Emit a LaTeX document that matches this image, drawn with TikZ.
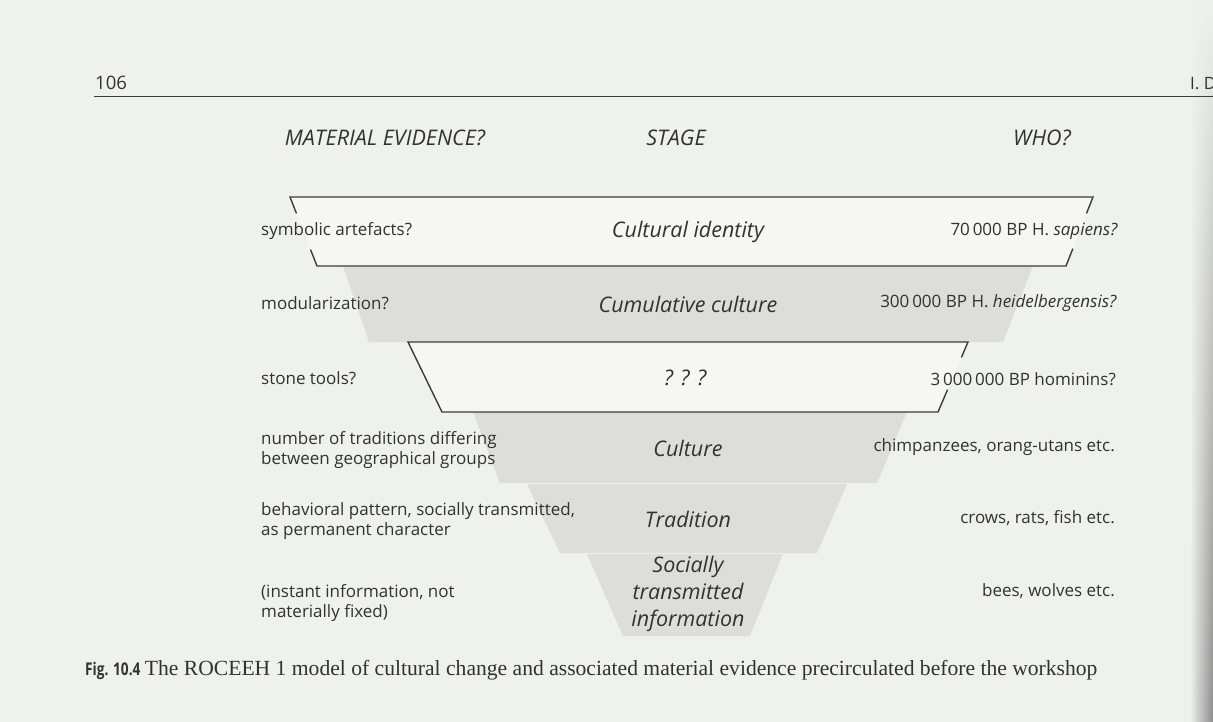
\documentclass[tikz,border=0pt]{standalone}
\usepackage{fontspec}
\setmainfont{Open Sans}
\newfontfamily\capfont{Liberation Serif}
\usetikzlibrary{fadings}
\definecolor{paper}{RGB}{239,241,237}
\definecolor{band}{RGB}{221,222,219}
\definecolor{boxfill}{RGB}{246,247,244}
\definecolor{ink}{RGB}{50,50,50}
\definecolor{rulecol}{RGB}{60,60,60}

\begin{document}
\begin{tikzpicture}[x=1pt,y=-1pt,
  every node/.style={text=ink, inner sep=0pt},
  evid/.style={anchor=west, align=left, font=\fontsize{17}{19.5}\selectfont},
  stagelbl/.style={anchor=center, align=center, font=\fontsize{21.5}{27}\selectfont\itshape},
  who/.style={anchor=east, align=right, font=\fontsize{17}{19.5}\selectfont},
  head/.style={anchor=center, font=\fontsize{21.5}{24}\selectfont\itshape},
  frame/.style={draw=rulecol, line width=1.4pt, line cap=round, line join=miter}]
\useasboundingbox (0,0) rectangle (1213,722);
\clip (0,0) rectangle (1213,722);
\fill[paper] (0,0) rectangle (1213,722);
% shadow along the page edge, stronger towards the bottom
\shade[left color=paper, right color=black!45, path fading=north] (1190,0) rectangle (1213,722);

% running head
\node[anchor=base west, font=\fontsize{18.5}{20}\selectfont] (pageno) at (95,90) {106};
\node[anchor=base west, font=\fontsize{17}{20}\selectfont] (runhead) at (1190,90) {I. D};
\draw[rulecol, line width=1.2pt] (94,96.5) -- (1213,96.5);

% column heads
\node[head] (hEvid)  at (385,138) {MATERIAL EVIDENCE?};
\node[head] (hStage) at (676,138) {STAGE};
\node[head] (hWho)   at (1042,138) {WHO?};

% grey funnel bands
\fill[band] (343,266) -- (1033,266) -- (1003,342) -- (369,342) -- cycle;
\fill[band] (473,412) -- (907,412) -- (877,483) -- (500,483) -- cycle;
\fill[band] (527,484) -- (847,484) -- (817,553) -- (560,553) -- cycle;
\fill[band] (587,554) -- (783,554) -- (750,636) -- (623,636) -- cycle;

% outlined stages
\fill[boxfill] (290,197) -- (1093,197) -- (1066,266) -- (317,266) -- cycle;
\draw[frame] (296.3,213) -- (290,197) -- (1093,197) -- (1086.7,213);
\draw[frame] (310.7,250) -- (317,266) -- (1066,266) -- (1072.7,249);

\fill[boxfill] (408,342) -- (968,342) -- (938,412) -- (442,412) -- cycle;
\draw[frame] (961.6,357) -- (968,342) -- (408,342) -- (442,412) -- (938,412) -- (947.4,390);

% material evidence
\node[evid] (e1) at (261,231) {symbolic artefacts?};
\node[evid] (e2) at (261,303) {modularization?};
\node[evid] (e3) at (261,378) {stone tools?};
\node[evid] (e4) at (261,450) {number of traditions differing\\between geographical groups};
\node[evid] (e5) at (261,521) {behavioral pattern, socially transmitted,\\as permanent character};
\node[evid] (e6) at (261,603) {(instant information, not\\materially fixed)};

% stages
\node[stagelbl] (s1) at (688,232) {Cultural identity};
\node[stagelbl] (s2) at (688,304) {Cumulative culture};
\node[stagelbl] (s3) at (685,378) {? ? ?};
\node[stagelbl] (s4) at (688,448) {Culture};
\node[stagelbl] (s5) at (688,519) {Tradition};
\node[stagelbl] (s6) at (688,594) {Socially\\transmitted\\information};

% who
\node[who] (w1) at (1118,231) {70\,000 BP H. \textit{sapiens?}};
\node[who] (w2) at (1117,303) {300\,000 BP H. \textit{heidelbergensis?}};
\node[who] (w3) at (1116,379) {3\,000\,000 BP hominins?};
\node[who] (w4) at (1115,447) {chimpanzees, orang-utans etc.};
\node[who] (w5) at (1115,518) {crows, rats, fish etc.};
\node[who] (w6) at (1115,591) {bees, wolves etc.};

% caption: condensed bold label, serif text
\node[anchor=base west] (cap) at (85,675)
  {\scalebox{0.78}[1]{\fontsize{17.5}{20}\selectfont\textbf{Fig. 10.4}}\hspace{0.45em}{\capfont\fontsize{21.6}{24}\selectfont The ROCEEH 1 model of cultural change and associated material evidence precirculated before the workshop}};
\end{tikzpicture}
\end{document}
